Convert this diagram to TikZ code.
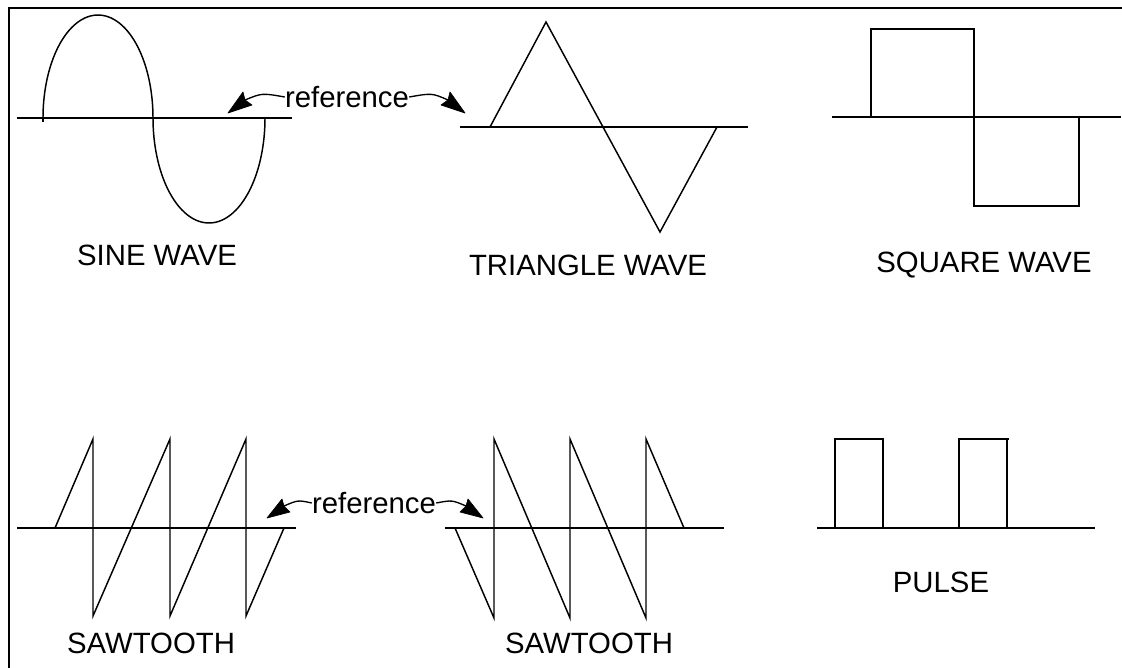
\documentclass[tikz,border=0pt]{standalone}
\usepackage{fontspec}
\setmainfont{Liberation Sans}
\tikzset{
  wave/.style={line width=1.1pt,line join=miter},
  axisline/.style={line width=1.2pt},
  framel/.style={line width=1.5pt},
  lbl/.style={font=\fontsize{22}{26}\selectfont,inner sep=0pt},
  refline/.style={line width=1pt},
  tiphead/.style={fill=black,draw=black,line width=0.5pt,line join=round}
}
\begin{document}
\begin{tikzpicture}[x=0.75pt,y=-0.75pt]
\useasboundingbox (0,0) rectangle (1122,668);
% frame
\draw[framel] (9,668) -- (9,8) -- (1122,8);
% sine wave
\draw[axisline] (17,118) -- (292,118);
\draw[wave] plot[smooth,domain=0:180,samples=60] ({98-55*cos(\x)},{118-103*sin(\x)});
\draw[wave] plot[smooth,domain=0:180,samples=60] ({209-56*cos(\x)},{118+105*sin(\x)});
\draw[wave] (43,118) -- (43,122);
\node[lbl] (sinelbl) at (157,255) {SINE WAVE};
% triangle wave
\draw[axisline] (460,127) -- (748,127);
\draw[wave] (490,127) -- (546,22) -- (603,127) -- (660,232) -- (717,127);
\node[lbl] (trilbl) at (588,265) {TRIANGLE WAVE};
% square wave
\draw[axisline] (832,117) -- (1121,117);
\draw[wave] (871,117) -- (871,29) -- (974,29) -- (974,206) -- (1079,206) -- (1079,117);
\node[lbl] (sqlbl) at (984,265) {SQUARE WAVE};
% top reference
\node[lbl] (ref1) at (347,97) {reference};
\coordinate (t1L) at (228,113);
\coordinate (b1L) at (245,100);
\coordinate (t1R) at (465,113);
\coordinate (b1R) at (448,100);
\draw[refline] (ref1.west) .. controls (262,93) .. (b1L);
\draw[refline] (ref1.east) .. controls (432,93) .. (b1R);
\fill[tiphead] (t1L) -- (243,92) -- (b1L) -- (252,105) -- cycle;
\fill[tiphead] (t1R) -- (450,92) -- (b1R) -- (441,105) -- cycle;
% sawtooth left
\draw[axisline] (17,528) -- (296,528);
\draw[wave] (55,528) -- (93,439) -- (93,616) -- (170,439) -- (170,616) -- (246,439) -- (246,616) -- (284,528);
\node[lbl] (saw1lbl) at (151,643) {SAWTOOTH};
% sawtooth right
\draw[axisline] (445,528) -- (724,528);
\draw[wave] (455,528) -- (494,618) -- (494,439) -- (570,618) -- (570,439) -- (646,618) -- (646,439) -- (684,528);
\node[lbl] (saw2lbl) at (589,643) {SAWTOOTH};
% bottom reference
\node[lbl] (ref2) at (374,503) {reference};
\coordinate (t2L) at (267,518);
\coordinate (b2L) at (284,506);
\coordinate (t2R) at (483,518);
\coordinate (b2R) at (466,506);
\draw[refline] (ref2.west) .. controls (298,500) .. (b2L);
\draw[refline] (ref2.east) .. controls (452,500) .. (b2R);
\fill[tiphead] (t2L) -- (282,499) -- (b2L) -- (290,512) -- cycle;
\fill[tiphead] (t2R) -- (468,499) -- (b2R) -- (460,512) -- cycle;
% pulse
\draw[axisline] (817,528) -- (1095,528);
\draw[wave] (835,528) -- (835,439) -- (884,439);
\draw[wave] (883,439) -- (883,528);
\draw[wave] (959,528) -- (959,439) -- (1009,439);
\draw[wave] (1007,439) -- (1007,528);
\node[lbl] (pulselbl) at (941,582) {PULSE};
\end{tikzpicture}
\end{document}
